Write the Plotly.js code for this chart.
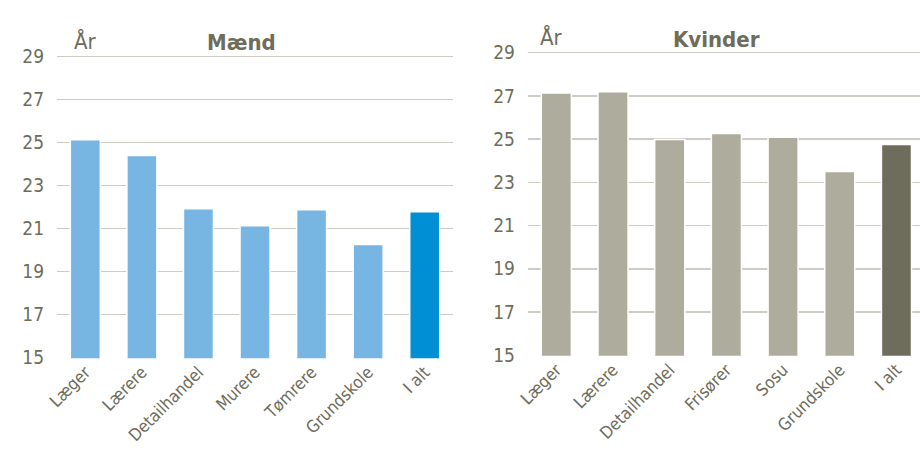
<!DOCTYPE html>
<html>
<head>
<meta charset="utf-8">
<script src="https://cdn.plot.ly/plotly-3.0.1.min.js"></script>
<style>html,body{margin:0;padding:0;background:#fff;}#chart{width:920px;height:450px;}</style>
</head>
<body>
<div id="chart"></div>
<script>
const menCategories = ["Læger", "Lærere", "Detailhandel", "Murere", "Tømrere", "Grundskole", "I alt"];
const menValues = [25.14, 24.41, 21.93, 21.14, 21.88, 20.26, 21.79];
const womenCategories = ["Læger", "Lærere", "Detailhandel", "Frisører", "Sosu", "Grundskole", "I alt"];
const womenValues = [27.14, 27.19, 24.98, 25.26, 25.09, 23.5, 24.75];
const yTicks = [15, 17, 19, 21, 23, 25, 27, 29];
const panelTitles = ["Mænd", "Kvinder"];
const unitLabel = "År";

const FONT = '"Liberation Sans Narrow", "DejaVu Sans Condensed", "Arial Narrow", sans-serif';
const TXT = '#6e6c5a';
const GRID = '#cdccc3';

const menColors = menCategories.map(c => c === "I alt" ? '#008fd5' : '#77b5e3');
const womenColors = womenCategories.map(c => c === "I alt" ? '#6e6c5a' : '#aeac9c');

const traces = [
  {type: 'bar', x: menCategories, y: menValues, xaxis: 'x', yaxis: 'y',
   marker: {color: menColors, line: {color: '#ffffff', width: 1.5}}, hoverinfo: 'x+y'},
  {type: 'bar', x: womenCategories, y: womenValues, xaxis: 'x2', yaxis: 'y2',
   marker: {color: womenColors, line: {color: '#ffffff', width: 1.5}}, hoverinfo: 'x+y'}
];

// px positions: left panel 15 at y=357.7, 29 at y=56.7; right panel 15 at 355.3, 29 at 52.7
const RANGE = [14.98, 29.1];
const yax = (top29, bot15) => {
  const ppu = (bot15 - top29) / 14;
  const topPx = top29 - (RANGE[1] - 29) * ppu;
  const botPx = bot15 + (15 - RANGE[0]) * ppu;
  return {
    domain: [1 - botPx / 450, 1 - topPx / 450], range: RANGE, tickvals: yTicks, ticktext: yTicks.map(String),
    showgrid: true, gridcolor: GRID, gridwidth: 1.5, zeroline: false, showline: false,
    ticks: '', ticklabelstandoff: 12, tickfont: {family: FONT, size: 19, color: TXT}, fixedrange: true
  };
};
const xax = (domain, range) => ({
  domain: domain, range: range, type: 'category', showgrid: false, zeroline: false,
  showline: false, ticks: '', tickangle: -45, tickfont: {family: FONT, size: 17, color: TXT}, fixedrange: true
});

const layout = {
  width: 920, height: 450,
  margin: {l: 0, r: 0, t: 0, b: 0},
  paper_bgcolor: '#ffffff', plot_bgcolor: '#ffffff',
  showlegend: false, bargap: 0.47,
  xaxis: Object.assign(xax([0.062, 0.4924], [-0.5, 6.5]), {anchor: 'y'}),
  yaxis: Object.assign(yax(56.7, 357.7), {anchor: 'x'}),
  xaxis2: Object.assign(xax([0.5739, 1], [-0.5, 6.415]), {anchor: 'y2'}),
  yaxis2: Object.assign(yax(52.7, 355.3), {anchor: 'x2'}),
  annotations: [
    {xref: 'paper', yref: 'paper', x: 72/920, y: 1 - 41/450, xanchor: 'left', yanchor: 'middle',
     text: unitLabel, showarrow: false, font: {family: FONT, size: 22, color: TXT}},
    {xref: 'paper', yref: 'paper', x: 242/920, y: 1 - 42/450, xanchor: 'center', yanchor: 'middle',
     text: '<b>' + panelTitles[0] + '</b>', showarrow: false, font: {family: FONT, size: 22, color: TXT}},
    {xref: 'paper', yref: 'paper', x: 538/920, y: 1 - 37/450, xanchor: 'left', yanchor: 'middle',
     text: unitLabel, showarrow: false, font: {family: FONT, size: 22, color: TXT}},
    {xref: 'paper', yref: 'paper', x: 716/920, y: 1 - 39/450, xanchor: 'center', yanchor: 'middle',
     text: '<b>' + panelTitles[1] + '</b>', showarrow: false, font: {family: FONT, size: 22, color: TXT}}
  ]
};

Plotly.newPlot('chart', traces, layout, {displayModeBar: false, staticPlot: true});
</script>
</body>
</html>
